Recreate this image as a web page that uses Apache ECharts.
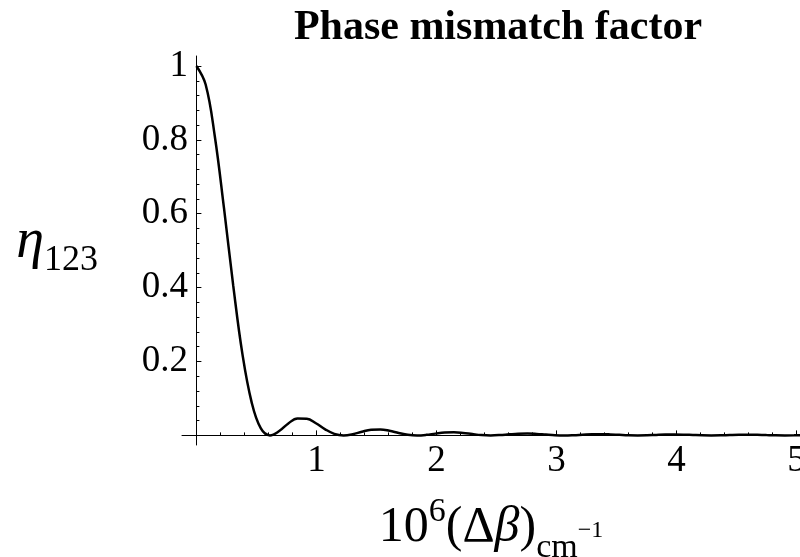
<!DOCTYPE html>
<html>
<head>
<meta charset="utf-8">
<script src="https://cdn.jsdelivr.net/npm/echarts@6/dist/echarts.min.js"></script>
<style>
  html, body { margin: 0; padding: 0; background: #fff; }
  #chart { width: 800px; height: 557px; }
</style>
</head>
<body>
<div id="chart"></div>
<script>
// values (10^6 Δβ in cm^-1 vs η123)
var deltaBeta = [0, 0.077, 0.153, 0.230, 0.307, 0.383, 0.460, 0.536, 0.613, 0.690,
    0.766, 0.843, 0.920, 0.996, 1.073, 1.149, 1.226, 1.303, 1.379, 1.456,
    1.533, 1.609, 1.686, 1.762, 1.839, 1.916, 1.992, 2.069, 2.146, 2.222,
    2.299, 2.375, 2.452, 2.529, 2.605, 2.682, 2.759, 2.835, 2.912, 2.988,
    3.065, 3.142, 3.218, 3.295, 3.372, 3.448, 3.525, 3.601, 3.678, 3.755,
    3.831, 3.908, 3.985, 4.061, 4.138, 4.214, 4.291, 4.368, 4.444, 4.521,
    4.598, 4.674, 4.751, 4.827, 4.904, 4.981, 5.057];
var eta = [1, 0.9497, 0.8106, 0.6150, 0.4053, 0.2214, 0.0901, 0.0194, 0, 0.0117,
    0.0324, 0.0457, 0.0450, 0.0328, 0.0165, 0.0042, 0, 0.0033, 0.0100, 0.0153,
    0.0162, 0.0126, 0.0067, 0.0018, 0, 0.0015, 0.0048, 0.0076, 0.0083, 0.0066,
    0.0036, 0.0010, 0, 0.0009, 0.0028, 0.0045, 0.0050, 0.0040, 0.0022, 0.0006,
    0, 0.0006, 0.0018, 0.0030, 0.0033, 0.0027, 0.0015, 0.0004, 0, 0.0004,
    0.0013, 0.0021, 0.0024, 0.0020, 0.0011, 0.0003, 0, 0.0003, 0.0010, 0.0016,
    0.0018, 0.0015, 0.0008, 0.0002, 0, 0.0002, 0.0007];

var xMajor = [1, 2, 3, 4, 5];
var xMinor = [0.2, 0.4, 0.6, 0.8, 1.2, 1.4, 1.6, 1.8, 2.2, 2.4, 2.6, 2.8,
    3.2, 3.4, 3.6, 3.8, 4.2, 4.4, 4.6, 4.8];
var yMajor = [0.2, 0.4, 0.6, 0.8, 1];
var yMinor = [0.04, 0.08, 0.12, 0.16, 0.24, 0.28, 0.32, 0.36, 0.44, 0.48, 0.52, 0.56,
    0.64, 0.68, 0.72, 0.76, 0.84, 0.88, 0.92, 0.96];

var serif = '"Liberation Serif", "Times New Roman", serif';
var black = '#000';

var points = [];
deltaBeta.forEach(function (x, i) {
    points.push([x, eta[i]]);
});

var chart = echarts.init(document.getElementById('chart'));

var xRange = { min: -0.12, max: 5.03 };
var yRange = { min: -0.026, max: 1.027 };

chart.setOption({
    backgroundColor: '#fff',
    animation: false,
    title: {
        text: 'Phase mismatch factor',
        left: 493,
        textAlign: 'center',
        top: 2,
        textStyle: { fontFamily: serif, fontWeight: 'bold', fontSize: 42, color: black }
    },
    grid: { left: 182, right: 0, top: 56, bottom: 112, containLabel: false, outerBoundsMode: 'none' },
    xAxis: [
        {
            type: 'value', min: xRange.min, max: xRange.max, position: 'bottom',
            axisLine: { onZero: true, onZeroAxisIndex: 0, lineStyle: { color: black, width: 1 } },
            axisTick: { inside: true, length: 5, customValues: xMajor, lineStyle: { color: black } },
            // labels are laid out from the grid edge, not from the zero line
            axisLabel: { customValues: xMajor, fontFamily: serif, fontSize: 37, color: black, margin: -2 },
            splitLine: { show: false },
            name: '{n|10}{sup|6}{n|(Δ}{b|β}{n|)}{sub|cm}{sup2|−1}',
            nameLocation: 'middle',
            nameGap: 70,
            nameTextStyle: {
                rich: {
                    n: { fontFamily: serif, fontSize: 50, color: black, lineHeight: 50, verticalAlign: 'bottom', padding: [0, 0, 12, 0] },
                    b: { fontFamily: serif, fontStyle: 'italic', fontSize: 50, color: black, lineHeight: 50, verticalAlign: 'bottom', padding: [0, 0, 12, 0] },
                    sup: { fontFamily: serif, fontSize: 34, color: black, lineHeight: 34, verticalAlign: 'bottom', padding: [0, 0, 36, 0] },
                    sub: { fontFamily: serif, fontSize: 34, color: black, lineHeight: 34, verticalAlign: 'bottom' },
                    sup2: { fontFamily: serif, fontSize: 24, color: black, lineHeight: 24, verticalAlign: 'bottom', padding: [0, 0, 22, 0] }
                }
            }
        },
        {
            type: 'value', min: xRange.min, max: xRange.max, position: 'bottom',
            axisLine: { show: false, onZero: true, onZeroAxisIndex: 0 },
            axisTick: { inside: true, length: 3, customValues: xMinor, lineStyle: { color: black } },
            axisLabel: { show: false },
            splitLine: { show: false }
        }
    ],
    yAxis: [
        {
            type: 'value', min: yRange.min, max: yRange.max, position: 'left',
            axisLine: { onZero: true, onZeroAxisIndex: 0, lineStyle: { color: black, width: 1 } },
            axisTick: { inside: true, length: 5, customValues: yMajor, lineStyle: { color: black } },
            axisLabel: { customValues: yMajor, fontFamily: serif, fontSize: 37, color: black, margin: -6 },
            splitLine: { show: false },
            name: '{eta|η}{sub|123}',
            nameLocation: 'middle',
            nameRotate: 0,
            nameGap: 84,
            nameTextStyle: {
                rich: {
                    eta: { fontFamily: serif, fontStyle: 'italic', fontSize: 56, color: black, lineHeight: 56, verticalAlign: 'bottom', padding: [0, 0, 8, 0] },
                    sub: { fontFamily: serif, fontSize: 36, color: black, lineHeight: 36, verticalAlign: 'bottom' }
                }
            }
        },
        {
            type: 'value', min: yRange.min, max: yRange.max, position: 'left',
            axisLine: { show: false, onZero: true, onZeroAxisIndex: 0 },
            axisTick: { inside: true, length: 3, customValues: yMinor, lineStyle: { color: black } },
            axisLabel: { show: false },
            splitLine: { show: false }
        }
    ],
    series: [
        {
            type: 'line',
            xAxisIndex: 0,
            yAxisIndex: 0,
            data: points,
            smooth: 0.4,
            showSymbol: false,
            lineStyle: { color: black, width: 2.5 }
        }
    ]
});
</script>
</body>
</html>
